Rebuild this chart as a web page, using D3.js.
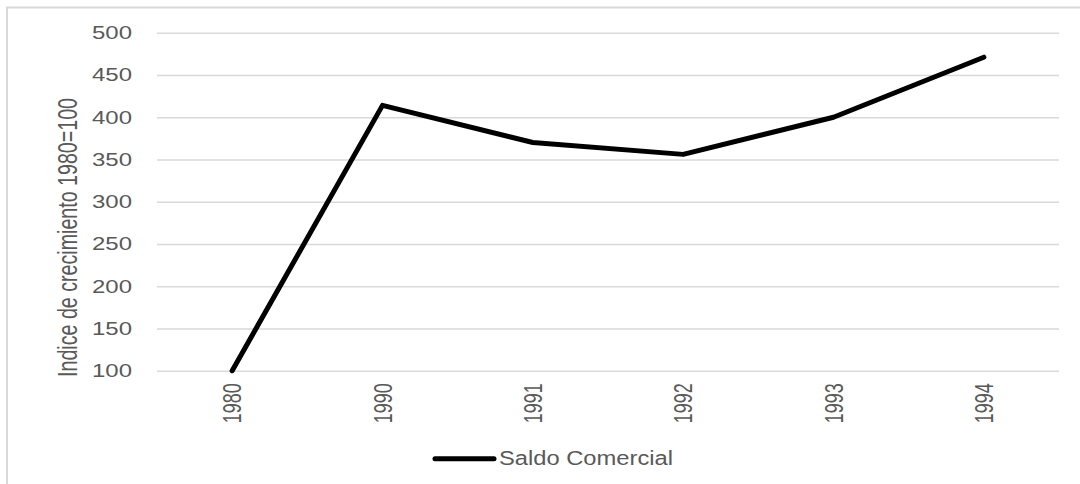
<!DOCTYPE html>
<html>
<head>
<meta charset="utf-8">
<script src="https://cdn.jsdelivr.net/npm/d3@7"></script>
<style>
  html, body { margin: 0; padding: 0; background: #fff; }
  svg { display: block; }
  text { font-family: "Liberation Sans", Arial, sans-serif; fill: #595959; }
</style>
</head>
<body>
<svg id="chart" width="1080" height="484"></svg>
<script>
const categories = ["1980", "1990", "1991", "1992", "1993", "1994"];
const seriesName = "Saldo Comercial";
const values = [100, 414, 370, 356, 400, 471];
const yTicks = [100, 150, 200, 250, 300, 350, 400, 450, 500];
const yTitle = "Indice de crecimiento 1980=100";

const plot = { left: 157, right: 1059, top: 32.7, bottom: 370.7 };

const svg = d3.select("#chart");

// outer chart frame
svg.append("rect")
  .attr("x", 7).attr("y", 7.5)
  .attr("width", 1100).attr("height", 500)
  .attr("fill", "none").attr("stroke", "#d9d9d9").attr("stroke-width", 2);

const x = d3.scaleBand().domain(categories).range([plot.left, plot.right]).padding(0);
const y = d3.scaleLinear().domain([100, 500]).range([plot.bottom, plot.top]);

// gridlines
const yAxis = d3.axisLeft(y).tickValues(yTicks).tickSize(-(plot.right - plot.left)).tickPadding(0).tickFormat("");
const gy = svg.append("g").attr("transform", `translate(${plot.left},0)`).call(yAxis);
gy.select(".domain").remove();
gy.selectAll(".tick line").attr("stroke", "#d9d9d9").attr("stroke-width", 1.5);

// y tick labels (stretched horizontally like the reference)
svg.append("g").selectAll("text").data(yTicks).join("text")
  .attr("x", 132).attr("y", d => y(d))
  .attr("dy", "0.36em")
  .attr("text-anchor", "end")
  .attr("font-size", 17.5)
  .attr("textLength", 40)
  .attr("lengthAdjust", "spacingAndGlyphs")
  .text(d => d);

// x axis labels rotated
const xAxis = d3.axisBottom(x).tickSize(0).tickPadding(0);
const gx = svg.append("g").attr("transform", `translate(0,${plot.bottom})`).call(xAxis);
gx.select(".domain").remove();
gx.selectAll(".tick text")
  .attr("font-size", 19)
  .attr("font-family", "\"Liberation Sans\", Arial, sans-serif")
  .attr("fill", "#595959")
  .attr("text-anchor", "end")
  .attr("transform", "translate(0,12.5) scale(1.35,1) rotate(-90)")
  .attr("x", 0).attr("y", 0)
  .attr("dy", "0.36em")
  .attr("textLength", 40)
  .attr("lengthAdjust", "spacingAndGlyphs");

// y-axis title
svg.append("text")
  .attr("transform", "translate(77,237.5) scale(1.4,1) rotate(-90)")
  .attr("text-anchor", "middle")
  .attr("font-size", 20)
  .attr("textLength", 279)
  .attr("lengthAdjust", "spacingAndGlyphs")
  .text(yTitle);

// line
const line = d3.line()
  .x((d, i) => x(categories[i]) + x.bandwidth() / 2)
  .y(d => y(d));
svg.append("path")
  .datum(values)
  .attr("d", line)
  .attr("fill", "none")
  .attr("stroke", "#000")
  .attr("stroke-width", 5)
  .attr("stroke-linejoin", "round")
  .attr("stroke-linecap", "round");

// legend
const leg = svg.append("g");
leg.append("line")
  .attr("x1", 435).attr("x2", 494)
  .attr("y1", 458.7).attr("y2", 458.7)
  .attr("stroke", "#000").attr("stroke-width", 5)
  .attr("stroke-linecap", "round");
leg.append("text")
  .attr("x", 499).attr("y", 465)
  .attr("font-size", 20)
  .attr("textLength", 174)
  .attr("lengthAdjust", "spacingAndGlyphs")
  .text(seriesName);
</script>
</body>
</html>
